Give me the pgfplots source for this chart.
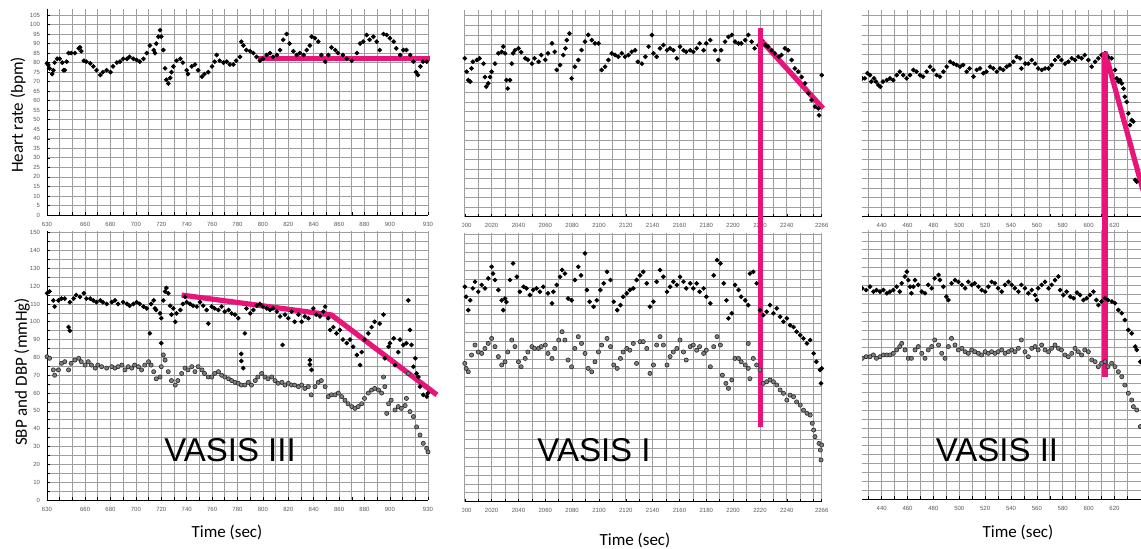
\documentclass[border=0pt]{standalone}
\usepackage{fontspec}
\setmainfont{Carlito}
\newfontfamily\arialf{Liberation Sans}
\usepackage{pgfplots}
\pgfplotsset{compat=1.18}
\definecolor{vpink}{RGB}{232,20,122}

\pgfplotsset{
  panel/.style={scale only axis, clip=false,
    axis x line*=bottom, axis y line*=left,
    axis line style={-, black, line width=0.4pt},
    grid=both, major grid style={black!38, line width=0.35pt},
    minor grid style={black!38, line width=0.35pt},
    major tick length=1.4pt, minor tick length=1.4pt,
    tick style={black, line width=0.3pt},
    tick label style={font=\arialf\fontsize{3}{3}\selectfont, text=black!65},
    /pgf/number format/assume math mode=true,
    /pgf/number format/set thousands separator={}},
  noy/.style={y axis line style={draw=none}, ytick style={draw=none}, yticklabel=\empty},
  hrtop/.style={ymin=0, ymax=108, ytick={0,5,...,105}},
  bpbot/.style={ymin=0, ymax=151, ytick={0,10,...,150}, minor ytick={5,15,...,145}},
  sbp/.style={only marks, mark=*, mark size=0.95pt, black},
  dbp/.style={only marks, mark=*, mark size=1.05pt, mark options={draw=black!85, fill=black!50, line width=0.3pt}},
  pinkline/.style={vpink, line width=2.6pt, no marks},
}

\begin{document}
\begin{tikzpicture}
\useasboundingbox (0,0) rectangle (570.5pt,274.5pt);

% ---------------- VASIS III ----------------
\begin{axis}[panel, hrtop, at={(23.5pt,167pt)}, anchor=south west,
  width=190.5pt, height=102.85pt, xmin=630, xmax=930,
  xtick={630,660,680,700,720,740,760,780,800,820,840,860,880,900,930},
  minor xtick={640,650,670,690,710,730,750,770,790,810,830,850,870,890,910,920}]
\addplot[sbp] coordinates {(630,79.6)(631,78.8)(632,77)(634,74)(635,76)(636,80)(638,82)(640,82)(642,80)(643,76)(644,76)(645.5,80.5)(647,85)(649,85)(652,85)(655,87.5)(656,88)(657,86)(659,81)(661,80.5)(664,79.6)(666.5,78)(669,76)(672,73.5)(674,75)(677,76)(680,75)(682,78)(685,80)(687.5,80.5)(690,82)(693,82)(695,83)(698,82)(700.5,81.4)(703,80.5)(706,82)(708.5,85)(711,89)(714,86.6)(715,85)(716,90)(717.7,93.6)(719,97)(720,93.6)(721.6,86.6)(723,77)(724,71)(725.5,69)(727,72)(728,75)(729.5,78)(732,81)(735,82)(737,80)(740,76)(741,74)(744,78)(746.5,79)(749,76)(752,72.6)(754,74)(757,75)(760,78)(762,80.5)(763.6,84)(766,81)(769,80)(771.5,80.5)(774,79)(776.7,79)(779,81)(782,83)(783,91)(784.6,89)(787,86.6)(790,86)(792.5,85)(795,83)(797.7,81)(800,82)(803,84)(805.6,85)(808,83)(811,84)(813.5,86.6)(816,92)(818.7,95)(821,90)(824,86)(826.6,84)(829,85)(832,84)(834.5,86.6)(837,89)(838.4,93.6)(841,92.8)(843.6,91)(846,84)(849,80.5)(851.5,84)(854,88)(857,86.6)(859,85)(863,84)(866,82)(870,81)(874,85)(876.5,90)(879,91)(881.7,94.5)(884,92)(887,93.6)(889.6,91)(892,86.6)(895,95)(897.5,94.5)(900,92.8)(903,91)(905,87.5)(908,84)(910.6,86.6)(913,86.6)(916,84)(918.6,80.5)(920.6,75)(922,73.5)(924,78)(926,80.5)(929,80.5)};
\addplot[pinkline] coordinates {(796,82)(931.5,82)};
\end{axis}

\begin{axis}[panel, bpbot, at={(23.5pt,24.5pt)}, anchor=south west,
  width=190.5pt, height=134.55pt, xmin=630, xmax=930,
  xtick={630,660,680,700,720,740,760,780,800,820,840,860,880,900,930},
  minor xtick={640,650,670,690,710,730,750,770,790,810,830,850,870,890,910,920}]
\addplot[dbp] coordinates {(630,80.4)(632,79.5)(635,73)(636,70)(639,73)(641.5,76.7)(644,77.6)(647,73)(649,76.7)(652,78.5)(655,79.5)(657,77.6)(660,75.7)(662.5,77.6)(665,75.7)(668,74)(670,75.7)(673,74.8)(677,74)(681,74.8)(683.5,74)(686,74.8)(689,75.7)(691.4,73)(694,74.8)(696.7,74)(699,75.7)(702,74.8)(704.5,73)(707,75.7)(710,77.6)(712,75.7)(714,72)(716,68)(719,69)(720,74.8)(721.6,81.4)(723,78.5)(725.5,72)(728,67)(731,64.5)(733,67)(736,71)(738.7,74)(741,73)(744,74.8)(746.5,72)(749,74.8)(752,73)(754,71)(757,69)(759.7,69)(762,71)(765,72)(767.5,70)(770,69)(773,68)(775.4,67)(778,66)(780.6,65.5)(783,64.5)(785.8,64.5)(788.5,66)(791,64.5)(794,67)(796,69)(799,71)(801.6,69)(804,68)(807,69)(809.5,67)(812,65.5)(815,66)(817.4,64.5)(820,65.5)(822.6,64.5)(825,64.5)(828,63.6)(830.5,64.5)(833,62.6)(835.8,63.6)(838,59)(841,63.6)(843.6,66)(846,67)(849,63.6)(851.5,58)(854,59)(856.8,59)(859.4,60)(862,58)(864.6,56)(867,54)(870,52.4)(872.5,51.4)(875,52.4)(877.8,54)(880,57)(883,60)(885.6,61.7)(888,62.6)(891,61.7)(893.5,60)(895,69)(896,63.6)(897.5,48.6)(899,54)(901,56)(904,50.5)(906.6,52.4)(909,51.4)(912,53)(913,57)(914.5,71)(915.8,49.6)(918.5,46.8)(921,41)(923.7,36.5)(926.3,31.8)(929,29)(930,27)};
\addplot[sbp] coordinates {(630,116)(632,117)(635,112)(636,108.5)(639,112)(641.5,113)(644,113)(647,97)(648,95)(648,111)(651,113)(653,115)(656,114)(659,116)(661,113)(664,113)(666.5,112)(669,111)(672,112)(674,111)(677,110)(681,111)(683.5,112)(686,110)(690,111)(693,110)(695,109)(698,110)(700.6,111)(703,110)(706,108.5)(708.5,107.5)(711,93.5)(712,110)(714,112)(715,107.5)(716,106.6)(719,104.7)(720,102)(720,88)(721.6,112)(723,117)(724,119)(725.5,116)(727,109)(728,104)(729.5,107.5)(731,100)(732,104.7)(735,106.6)(737,110)(738.7,114)(740,111)(742.6,110)(745,109)(748,108.5)(750.5,111)(753,109)(755.7,106.6)(757,99)(759.7,108.5)(762,107.5)(765,106.6)(767.5,108.5)(770,105.7)(773,106.6)(775.4,104.7)(778,104)(780.6,102)(783,82)(783,78)(784.5,74)(785.8,93.5)(787,107.5)(790,104.7)(792.5,106.6)(795,109)(797.7,110)(800,108.5)(803,107.5)(805.6,106.6)(808,107.5)(811,105.7)(813.5,103)(815.5,87)(817.4,104)(820,102)(822.6,105.7)(825,100)(828,104)(830.5,100)(833,103)(835.8,102)(837,78.5)(837,76)(838.3,73)(839.7,107.5)(842,104)(845,103)(847.6,105.7)(849,108.5)(851.5,102)(853,95.4)(855.5,97)(858,93.5)(860.7,95.4)(863,90)(866,88)(868.6,90)(871,86)(874,81.4)(876.5,75.7)(877.8,83)(880,90)(883,93.5)(885.6,97)(888,100)(892,99)(895,104)(896,79.5)(899,86)(900,88)(903,90.7)(904,75.7)(906.6,83)(908,90)(910.6,87)(913,88)(914.5,112)(915.8,95.4)(917,87)(918.5,74.8)(920,79.5)(921,71)(922.4,69)(923.7,63.6)(926.3,59)(929,58)(930,60)};
\addplot[pinkline] coordinates {(736,115)(854,103.8)(937,59)};
\end{axis}

% ---------------- VASIS I ----------------
\begin{scope}
\clip (231pt,0pt) rectangle (420pt,274.5pt);
\begin{axis}[panel, noy, hrtop, at={(232.4pt,166.15pt)}, anchor=south west,
  width=178.45pt, height=103.3pt, xmin=2000, xmax=2266,
  xtick={2000,2020,...,2240,2266},
  minor xtick={2010,2030,...,2250,2260}]
\addplot[sbp] coordinates {(2000,82.8)(2001.4,75.8)(2002.6,71.4)(2004,70.6)(2005,77.5)(2006,81)(2009,81.9)(2011,82.8)(2014,80)(2015,73)(2016,68)(2017.5,69.7)(2018.8,73)(2020,75.8)(2022.5,80)(2025,85.4)(2027.5,86.2)(2028.7,88.9)(2030,85.4)(2031,71.4)(2032,67)(2033.7,71.4)(2035,80)(2036,85.4)(2037.4,87)(2040,88)(2042,86)(2045,82.8)(2047,82)(2050,80)(2052,82.8)(2055,81)(2057,84.5)(2060,82)(2062,85.4)(2065,90.6)(2067,86.2)(2068.5,76.7)(2071,79.3)(2073.4,84.5)(2075,88)(2076,92.3)(2078,95.8)(2079.6,72.3)(2082,78.4)(2084.6,81.9)(2087,87.1)(2089.6,91.5)(2092,95)(2094.6,92.3)(2097,90.6)(2099.6,90.6)(2102,76.7)(2104.5,78.4)(2107,81.9)(2109.5,85.4)(2112,84.5)(2114.4,83.6)(2117,85.4)(2119.4,83.6)(2122,84.5)(2124.4,86.2)(2127,87)(2129,81)(2132,80)(2134.6,83.6)(2137,88.9)(2139.4,95)(2140.6,85.4)(2143,83.6)(2145.5,88)(2148,89.7)(2150.7,87)(2153,88)(2155.4,87)(2158,82.8)(2160.4,88.9)(2163,87)(2165,86.2)(2168,87)(2170.3,86.2)(2172.8,88)(2175,90.6)(2178,87)(2180,90.6)(2183,92.3)(2186.5,87)(2189,81.9)(2191,87)(2194,91.5)(2196.5,94)(2199,95)(2201.4,91.5)(2204,90.6)(2206,90.6)(2209,92.3)(2211.3,95)(2213.8,91.5)(2216,88)(2218.8,89.7)(2221,92.3)(2224,89.7)(2226,88.9)(2228.7,87)(2231,85.4)(2234,83.6)(2236,84.5)(2238.6,88)(2241,87)(2243.6,81.9)(2246,77.5)(2248.5,75.8)(2251,73)(2253.5,69.7)(2256,64.5)(2258.5,61)(2261,57.5)(2263.5,56.6)(2264,53)(2266,74)};
\addplot[pinkline] coordinates {(2220.7,92.3)(2267,56.6)};
\end{axis}

\begin{axis}[panel, noy, bpbot, at={(232.4pt,23.65pt)}, anchor=south west,
  width=178.45pt, height=134.55pt, xmin=2000, xmax=2266,
  xtick={2000,2020,...,2240,2266},
  minor xtick={2010,2030,...,2250,2260}]
\addplot[dbp] coordinates {(2000,77.6)(2001,74.8)(2002.6,72.9)(2005,82.3)(2007.6,87.9)(2010,84)(2012.6,83.2)(2015,86)(2017.5,88.8)(2020,91.6)(2022.5,87)(2025,81.4)(2027.5,76.7)(2030,78.5)(2032,84)(2035,90.7)(2037.4,87)(2040,78.5)(2042,75.7)(2045,80.4)(2047,84)(2050,87)(2052,86)(2055,86)(2057,87)(2060,87.9)(2062,83.2)(2065,80.4)(2067,86)(2070,90.7)(2072.5,95.4)(2074.6,90.7)(2077,79.5)(2079.6,75.7)(2082,86)(2084.6,92.6)(2087,88.8)(2089.6,83.2)(2092,74.8)(2094.6,72.9)(2097,78.5)(2099.6,84)(2102,87.9)(2106,91.6)(2108.6,87)(2111,76.7)(2113.6,74.8)(2116,80.4)(2118,84)(2120.7,86)(2123,85)(2125.6,88.8)(2128,77.6)(2130.6,89.8)(2133,89.8)(2135.6,86)(2138,72)(2140.6,76.7)(2143,87.9)(2145.5,92.6)(2148,87.9)(2150.7,76.7)(2153,81.4)(2155.4,84)(2158,86)(2160.4,90.7)(2163,84)(2165,79.5)(2168,87)(2170.3,87.9)(2172.8,85)(2175,87)(2178,83.2)(2180,85)(2183,75.7)(2185.5,87)(2188,92.6)(2190.5,87.9)(2192,71)(2194.6,66.4)(2196.5,63.6)(2199,68.3)(2201.4,80.4)(2204,80.4)(2206,78.5)(2209,76.7)(2211.3,74.8)(2212.5,69)(2211.3,88.8)(2215,80.4)(2217.5,76.7)(2220,73.9)(2222.5,66.4)(2225,67.3)(2227.5,68.3)(2230,67.3)(2232.5,65.5)(2235,62.7)(2237.5,60.8)(2240,57)(2242.4,59.8)(2245,58.9)(2247.3,56)(2250,54.2)(2252.4,51.4)(2255,49.6)(2257.4,48.6)(2259,44)(2260,40.2)(2261,36.5)(2264,32.7)(2265,29)(2266,31.8)(2265.5,23.4)};
\addplot[sbp] coordinates {(2000,120.6)(2001,115)(2002.6,107.5)(2004,113)(2006,119.7)(2007.6,123.4)(2010,117.8)(2012.6,121.6)(2015,119.7)(2017.5,125.3)(2020,131.8)(2021,128)(2022.5,124.4)(2025,118.8)(2027.5,113)(2028.7,107.5)(2030,114)(2031,112)(2033.7,124.4)(2036,133.7)(2038.8,126.2)(2041,117.8)(2043.8,120.6)(2046,119.7)(2048.5,116)(2051,118.8)(2053.5,119.7)(2056,117.8)(2058.5,120.6)(2062,116.9)(2065,111.3)(2066,117.8)(2068.5,121.6)(2071,126.2)(2072.5,130)(2074.6,128)(2077,114)(2079.6,113)(2082,124.4)(2084.6,131.8)(2086.6,127)(2089.6,139.3)(2091,118.8)(2093,112.2)(2096,109.4)(2098.4,113)(2101,118.8)(2103.5,122.5)(2106,129)(2108.6,124.4)(2111,112.2)(2113.6,107.5)(2116,110.3)(2118,115)(2120.7,116.9)(2123,118.8)(2125.6,119.7)(2128,124.4)(2130.6,127)(2133,129)(2135.6,122.5)(2138,109.4)(2140.6,112.2)(2143,123.4)(2145.5,130)(2148,126.2)(2150.7,117.8)(2153,120.6)(2155.4,123.4)(2158,121.6)(2160.4,126.2)(2163,123.4)(2165,119.7)(2168,122.5)(2170.3,119.7)(2172.8,122.5)(2175,117.8)(2178,119.7)(2180,115)(2183,111.3)(2185.5,127)(2188,135.6)(2190.5,133.7)(2193,122.5)(2195,113)(2196.5,102.9)(2199,105.7)(2201.4,121.6)(2204,118.8)(2206,115)(2209,113)(2211.3,110.3)(2212.5,128)(2215,129)(2217.5,122.5)(2220,107.5)(2222.5,104.7)(2225,106.6)(2227.5,110.3)(2230,105.7)(2232.5,108.5)(2235,103.8)(2237.5,101)(2240,102.9)(2242.4,99)(2245,98)(2247.3,95.4)(2250,93.5)(2252.4,91.6)(2255,88.8)(2257.4,90.7)(2260,83.2)(2262,78.5)(2264.7,73.9)(2265.5,66.4)(2266,74.8)};
\addplot[pinkline] coordinates {(2220.5,42)(2220.5,265.8)};
\end{axis}
\end{scope}

% ---------------- VASIS II ----------------
\begin{scope}
\clip (431pt,0pt) rectangle (570.5pt,274.5pt);
\begin{axis}[panel, noy, hrtop, at={(427.9pt,166.15pt)}, anchor=south west,
  width=142.6pt, height=103.3pt, xmin=420, xmax=640.5,
  xtick={440,460,...,620},
  minor xtick={430,450,...,630}]
\addplot[sbp] coordinates {(425,72.3)(427,72.3)(429,75)(431,74)(432,70.6)(434,72.3)(435.6,70.6)(437.4,68.8)(439,67.9)(441,70.6)(444,71.4)(446.4,72.3)(449,71.4)(451.6,74)(454,75.8)(456.7,74)(459.3,72.3)(461.9,74)(464.5,76.7)(467,75.8)(469.6,74)(472,73.2)(474.8,75.8)(477.4,78.4)(480,76.7)(482.5,74)(485,73.2)(487.7,75.8)(490.3,78.4)(493,81)(495.5,80)(498,79.3)(500.6,78.4)(503,79.3)(505.7,75.8)(508,77.5)(511,73.2)(513.5,76.7)(516,77.5)(518.6,75)(521,75.8)(523.8,78.4)(526.3,77.5)(529,75.8)(531.5,77.5)(534,76.7)(536.6,78.4)(539,79.3)(541.8,81)(544.4,83.6)(547,82.8)(548,77.5)(551,80)(553.4,80)(556,81.9)(558.6,80)(561,77.5)(563.8,76.7)(566.3,77.5)(569,77.5)(571.4,79.3)(574,81.9)(576.6,83.6)(579,81.9)(581.8,80)(584.3,81)(587,82.8)(589.5,81.9)(592,83.6)(594.6,82.8)(597,84.5)(599.8,81.9)(602.4,78.4)(605,81)(607.5,82.8)(610,84.5)(612.7,85.4)(615,83.6)(617.8,82.8)(620.4,76.7)(621.7,72.3)(623,70.6)(624.3,71.4)(625.6,69.7)(627,67)(628,62.7)(629.4,60)(630.7,54)(632,47.9)(633.3,50.5)(634.6,49.7)(636,19.2)(637.2,18.3)};
\addplot[pinkline] coordinates {(612.7,86.2)(642,13.9)};
\end{axis}

\begin{axis}[panel, noy, bpbot, at={(427.9pt,24.85pt)}, anchor=south west,
  width=142.6pt, height=134.55pt, xmin=420, xmax=640.5,
  xtick={440,460,...,620},
  minor xtick={430,450,...,630}]
\addplot[dbp] coordinates {(425,79.1)(428,80)(431,80)(433.6,81)(436,79.1)(438.7,80)(441.3,81)(444,81)(446.4,81)(449,81.9)(451.6,83.8)(454,85.7)(455.5,87.5)(458,83.8)(460.6,79.1)(463,79.1)(465.8,83.8)(468.3,85.7)(471,81.9)(473.5,79.1)(476,83.8)(478.7,85.7)(481,89.4)(484,86.6)(486.4,81.9)(489,79.1)(491.6,85.7)(494,90.3)(496.7,86.6)(499.3,83.8)(502,84.7)(504.5,82.8)(507,81.9)(509.6,83.8)(512,82.8)(514.8,81.9)(517.3,81)(520,82.8)(522.5,81.9)(525,82.8)(527.6,81.9)(530,82.8)(532.8,83.8)(535.4,81.9)(538,82.8)(540.5,83.8)(543,82.8)(545.7,84.7)(548,89.4)(550.8,82.8)(553.4,80)(556,84.7)(558.6,85.7)(561,83.8)(563.7,86.6)(566.3,83.8)(569,82.8)(571.4,84.7)(574,86.6)(576.6,84.7)(579,83.8)(581.8,81)(584.3,80)(587,81.9)(589.5,84.7)(592,82.8)(594.6,81)(597,83.8)(599.8,82.8)(602.4,78.2)(605,77.2)(607.5,74.4)(610,76.3)(612.7,77.2)(615,74.4)(617.8,76.3)(620.4,74.4)(623,71.6)(625.6,68.8)(628,64.1)(630.7,59.5)(633.3,55.7)(634.6,52)(637.2,50.1)(640,40.8)};
\addplot[sbp] coordinates {(425,118.4)(428,117.4)(431,119.3)(433.6,116.5)(436,117.4)(438.7,116.5)(441.3,117.4)(444,115.6)(446.4,116.5)(449,117.4)(451.6,119.3)(454,116.5)(455.5,121.2)(458,125)(459.5,127.7)(460.6,123)(462,119.3)(463,115.6)(464.5,119.3)(465.8,123)(468.3,120.3)(471,116.5)(473.5,115.6)(476,120.3)(478.7,118.4)(481,124)(484,125.9)(485,123)(487.7,119.3)(490,113.7)(491.6,111.8)(494,121.2)(496.7,123)(499.3,122)(502,120.3)(504.5,118.4)(507,122)(509.6,120.3)(512,121.2)(514.8,119.3)(517.3,117.4)(520,116.5)(522.5,119.3)(525,122)(527.6,121.2)(530,118.4)(532.8,116.5)(535.4,120.3)(538,122)(540.5,120.3)(543,118.4)(545.7,116.5)(548,120.3)(550.8,118.4)(553.4,115.6)(556,117.4)(558.6,114.6)(560,111.8)(561,118.4)(563.7,120.3)(566.3,122)(569,118.4)(571.4,120.3)(574,123)(576.6,125)(578,117.4)(580.5,114.6)(583,116.5)(585.8,113.7)(588.4,112.8)(591,116)(593.4,114.6)(596,111.8)(598.5,112.8)(601,114.6)(603.7,116.5)(606,111.8)(607.6,109)(610,111)(612.7,112.8)(615,111.8)(618,111)(620.4,110)(623,106.2)(625.6,104.4)(628,100.6)(630.7,95)(633.3,93.1)(636,85.7)(637.2,83.8)(640,77.2)};
\addplot[pinkline] coordinates {(612.7,68.6)(612.7,251.2)};
\end{axis}
\end{scope}

% ---------------- labels ----------------
\node[rotate=90, inner sep=0, font=\fontsize{8.5}{9}\selectfont] at (9pt,217pt) {Heart rate (bpm)};
\node[rotate=90, inner sep=0, font=\fontsize{8.5}{9}\selectfont] at (11pt,88.5pt) {SBP and DBP (mmHg)};
\node[inner sep=0, font=\fontsize{8.5}{9}\selectfont] at (113.5pt,8.5pt) {Time (sec)};
\node[inner sep=0, font=\fontsize{8.5}{9}\selectfont] at (317.5pt,4.5pt) {Time (sec)};
\node[inner sep=0, font=\fontsize{8.5}{9}\selectfont] at (509pt,8.5pt) {Time (sec)};
\node[inner sep=0, font=\arialf\fontsize{16.5}{17}\selectfont] at (115pt,49.5pt) {VASIS III};
\node[inner sep=0, font=\arialf\fontsize{16.5}{17}\selectfont] at (297pt,49.5pt) {VASIS I};
\node[inner sep=0, font=\arialf\fontsize{16.5}{17}\selectfont] at (498.5pt,49.5pt) {VASIS II};
\end{tikzpicture}
\end{document}
